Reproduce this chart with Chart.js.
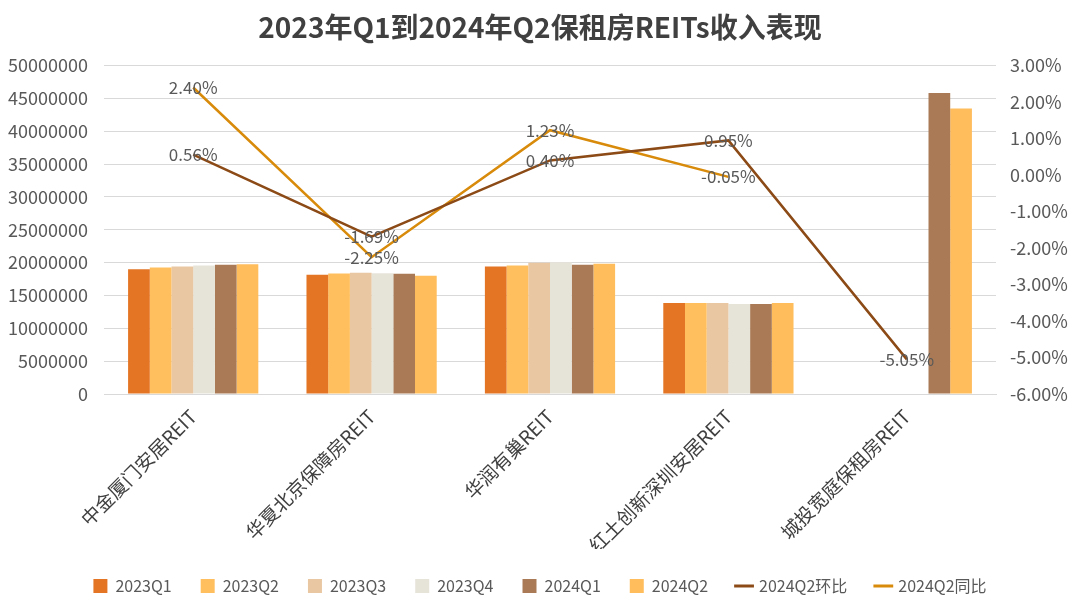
<!DOCTYPE html>
<html>
<head>
<meta charset="utf-8">
<script src="https://cdn.jsdelivr.net/npm/chart.js@4"></script>
<style>
  html, body { margin: 0; padding: 0; background: #fff; }
  #wrap { width: 1080px; height: 608px; }
</style>
</head>
<body>
<div id="wrap"><canvas id="reits-chart" width="1080" height="608"></canvas></div>
<script>
const categories = ["中金厦门安居REIT", "华夏北京保障房REIT", "华润有巢REIT", "红土创新深圳安居REIT", "城投宽庭保租房REIT"];

const q2023Q1 = [19000000, 18140000, 19400000, 13870000, null];
const q2023Q2 = [19250000, 18340000, 19560000, 13870000, null];
const q2023Q3 = [19400000, 18450000, 20000000, 13870000, null];
const q2023Q4 = [19560000, 18400000, 20070000, 13720000, null];
const q2024Q1 = [19660000, 18290000, 19660000, 13720000, 45840000];
const q2024Q2 = [19770000, 17990000, 19820000, 13870000, 43450000];

const qoq2024Q2 = [0.56, -1.69, 0.40, 0.95, -5.05];
const yoy2024Q2 = [2.40, -2.25, 1.23, -0.05, null];

const leftTicks = { min: 0, max: 50000000, step: 5000000 };
const rightTicks = { min: -6, max: 3, step: 1 };

const cjk = "'Noto Sans CJK SC', 'Noto Sans', sans-serif";

// draws the % labels centered on line points
const lineLabels = {
  id: "lineLabels",
  afterDatasetsDraw(chart) {
    const ctx = chart.ctx;
    ctx.save();
    ctx.font = "17px " + cjk;
    ctx.fillStyle = "#595959";
    ctx.textAlign = "center";
    ctx.textBaseline = "middle";
    chart.data.datasets.forEach((ds, i) => {
      if (ds.type !== "line") return;
      const meta = chart.getDatasetMeta(i);
      meta.data.forEach((pt, j) => {
        const v = ds.data[j];
        if (v === null || v === undefined) return;
        ctx.fillText(v.toFixed(2) + "%", pt.x, pt.y);
      });
    });
    ctx.restore();
  }
};

const bar = (label, data, color) => ({
  type: "bar",
  label: label,
  data: data,
  backgroundColor: color,
  yAxisID: "y",
  order: 1,
});

const line = (label, data, color) => ({
  type: "line",
  label: label,
  data: data,
  borderColor: color,
  backgroundColor: color,
  borderWidth: 2.5,
  pointRadius: 0,
  tension: 0,
  spanGaps: false,
  yAxisID: "y1",
  order: 0,
});

new Chart(document.getElementById("reits-chart"), {
  data: {
    labels: categories,
    datasets: [
      bar("2023Q1", q2023Q1, "#E37524"),
      bar("2023Q2", q2023Q2, "#FFBF5F"),
      bar("2023Q3", q2023Q3, "#E8C7A2"),
      bar("2023Q4", q2023Q4, "#E6E3D9"),
      bar("2024Q1", q2024Q1, "#A97A55"),
      bar("2024Q2", q2024Q2, "#FFBD5C"),
      line("2024Q2环比", qoq2024Q2, "#8B4A16"),
      line("2024Q2同比", yoy2024Q2, "#D88A0A"),
    ],
  },
  options: {
    responsive: false,
    animation: false,
    datasets: {
      bar: { categoryPercentage: 0.73, barPercentage: 1.0 },
    },
    layout: { padding: { top: 8, left: 0, right: 0, bottom: 4 } },
    plugins: {
      tooltip: { enabled: false },
      title: {
        display: true,
        text: "2023年Q1到2024年Q2保租房REITs收入表现",
        color: "#404040",
        font: { family: cjk, size: 28, weight: "bold" },
        padding: { top: 3, bottom: 21 },
      },
      legend: {
        position: "bottom",
        labels: {
          color: "#595959",
          font: { family: cjk, size: 16 },
          usePointStyle: true,
          boxWidth: 14,
          boxHeight: 14,
          padding: 29,
          sort: (a, b) => a.datasetIndex - b.datasetIndex,
          generateLabels(chart) {
            return chart.data.datasets.map((ds, i) => ({
              text: ds.label,
              datasetIndex: i,
              fillStyle: ds.type === "line" ? ds.borderColor : ds.backgroundColor,
              strokeStyle: ds.type === "line" ? ds.borderColor : ds.backgroundColor,
              lineWidth: ds.type === "line" ? 3 : 0,
              pointStyle: ds.type === "line" ? "line" : "rect",
              fontColor: "#595959",
              hidden: false,
            }));
          },
        },
      },
    },
    scales: {
      x: {
        grid: { display: false },
        border: { display: true, color: "#D9D9D9" },
        afterFit: (s) => { s.height = 155; },
        ticks: {
          color: "#404040",
          font: { family: cjk, size: 19 },
          maxRotation: 45,
          minRotation: 45,
          autoSkip: false,
        },
      },
      y: {
        position: "left",
        min: leftTicks.min,
        max: leftTicks.max,
        border: { display: false },
        afterFit: (s) => { s.width = 104; },
        grid: { color: "#D9D9D9", drawTicks: false },
        ticks: {
          stepSize: leftTicks.step,
          color: "#595959",
          font: { family: cjk, size: 18 },
          padding: 16,
          callback: (v) => String(v),
        },
      },
      y1: {
        position: "right",
        min: rightTicks.min,
        max: rightTicks.max,
        border: { display: false },
        afterFit: (s) => { s.width = 84; },
        grid: { display: false, drawTicks: false },
        ticks: {
          stepSize: rightTicks.step,
          color: "#595959",
          font: { family: cjk, size: 18 },
          padding: 14,
          callback: (v) => v.toFixed(2) + "%",
        },
      },
    },
  },
  plugins: [lineLabels],
});
</script>
</body>
</html>
